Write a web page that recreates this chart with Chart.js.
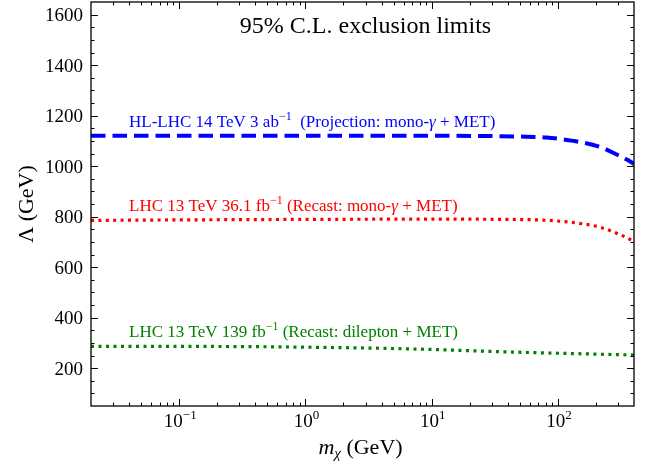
<!DOCTYPE html>
<html><head><meta charset="utf-8">
<script src="https://cdn.jsdelivr.net/npm/chart.js@4"></script>
<style>html,body{margin:0;padding:0;background:#fff}</style>
</head><body>
<canvas id="c" width="652" height="468"></canvas>
<script>
// ---- data ----
const blueMass = [0.02, 0.1, 1, 10, 30, 50, 81, 132, 215, 292, 379, 400];
const blueLambda = [1120, 1120, 1120, 1120, 1119, 1117, 1113, 1100, 1076, 1046, 1016, 1008];
const redMass = [0.02, 0.1, 1, 10, 40, 91, 159, 215, 309, 400];
const redLambda = [785, 787, 789, 790, 789, 784, 771, 758, 729, 702];
const greenMass = [0.02, 0.1, 1, 10, 30, 100, 400];
const greenLambda = [286, 286, 283, 274, 266, 259, 252];
const xTickValues = [0.1, 1, 10, 100];
const xTickExps = ['\u22121', '0', '1', '2'];
const yTickValues = [200, 400, 600, 800, 1000, 1200, 1400, 1600];
const yTickLabels = ['200', '400', '600', '800', '1000', '1200', '1400', '1600'];

const FONT = '"Liberation Serif", "Times New Roman", serif';
const pts = (xs, ys) => xs.map((x, i) => ({x: x, y: ys[i]}));

function richWidth(ctx, segs) {
  let w = 0;
  for (const s of segs) { ctx.font = (s.style || '') + ' ' + s.size + 'px ' + FONT; w += ctx.measureText(s.t).width; }
  return w;
}
function drawRich(ctx, x, y, segs, color, align) {
  const w = richWidth(ctx, segs);
  let cx = align === 'center' ? x - w / 2 : (align === 'right' ? x - w : x);
  ctx.fillStyle = color; ctx.textAlign = 'left'; ctx.textBaseline = 'alphabetic';
  for (const s of segs) {
    ctx.font = (s.style || '') + ' ' + s.size + 'px ' + FONT;
    ctx.fillText(s.t, cx, y + (s.dy || 0));
    cx += ctx.measureText(s.t).width;
  }
}

const decor = {
  id: 'decor',
  afterDraw(chart) {
    const ctx = chart.ctx, a = chart.chartArea;
    const xs = chart.scales.x, ys = chart.scales.y;
    ctx.save();
    ctx.strokeStyle = '#000'; ctx.lineWidth = 1.3;
    ctx.strokeRect(a.left, a.top, a.right - a.left, a.bottom - a.top);
    ctx.lineWidth = 1;
    const tick = (x1, y1, x2, y2) => { ctx.beginPath(); ctx.moveTo(x1, y1); ctx.lineTo(x2, y2); ctx.stroke(); };
    // x ticks
    for (let e = -2; e <= 2; e++) {
      for (let k = 1; k <= 9; k++) {
        const v = k * Math.pow(10, e);
        if (v <= xs.min * 1.0001 || v >= xs.max * 0.9999) continue;
        const px = Math.round(xs.getPixelForValue(v)) + 0.5;
        const L = k === 1 ? 7 : 3.5;
        tick(px, a.bottom, px, a.bottom - L);
        tick(px, a.top, px, a.top + L);
      }
    }
    // y ticks
    for (let v = 100; v < ys.max; v += 50) {
      if (v <= ys.min) continue;
      const py = Math.round(ys.getPixelForValue(v)) + 0.5;
      const L = (v % 200 === 0) ? 7 : 3.5;
      tick(a.left, py, a.left + L, py);
      tick(a.right, py, a.right - L, py);
    }
    // y tick labels
    ctx.fillStyle = '#000'; ctx.font = '19px ' + FONT; ctx.textAlign = 'right'; ctx.textBaseline = 'alphabetic';
    yTickValues.forEach((v, i) => {
      ctx.fillText(yTickLabels[i], a.left - 8, ys.getPixelForValue(v) + 6.5);
    });
    // x tick labels
    xTickValues.forEach((v, i) => {
      const px = xs.getPixelForValue(v);
      drawRich(ctx, px + 1, a.bottom + 21, [{t: '10', size: 19}, {t: xTickExps[i], size: 13, dy: -8}], '#000', 'center');
    });
    // axis titles
    drawRich(ctx, (a.left + a.right) / 2 - 2, 454, [
      {t: 'm', size: 22, style: 'italic'}, {t: '\u03c7', size: 15, style: 'italic', dy: 4}, {t: ' (GeV)', size: 22}], '#000', 'center');
    ctx.save();
    ctx.translate(33, (a.top + a.bottom) / 2);
    ctx.rotate(-Math.PI / 2);
    drawRich(ctx, 0, 0, [{t: '\u039b (GeV)', size: 22}], '#000', 'center');
    ctx.restore();
    // title
    drawRich(ctx, (a.left + a.right) / 2 + 3, 33, [{t: '95% C.L. exclusion limits', size: 24}], '#000', 'center');
    // series labels
    const lx = xs.getPixelForValue(0.04);
    drawRich(ctx, lx, ys.getPixelForValue(1155), [
      {t: 'HL-LHC 14 TeV 3 ab', size: 17}, {t: '\u22121', size: 12, dy: -7},
      {t: '  (Projection: mono-', size: 17}, {t: '\u03b3', size: 17, style: 'italic'}, {t: ' + MET)', size: 17}], '#0000ff', 'left');
    drawRich(ctx, lx, ys.getPixelForValue(821), [
      {t: 'LHC 13 TeV 36.1 fb', size: 17}, {t: '\u22121', size: 12, dy: -7},
      {t: ' (Recast: mono-', size: 17}, {t: '\u03b3', size: 17, style: 'italic'}, {t: ' + MET)', size: 17}], '#ff0000', 'left');
    drawRich(ctx, lx, ys.getPixelForValue(323), [
      {t: 'LHC 13 TeV 139 fb', size: 17}, {t: '\u22121', size: 12, dy: -7},
      {t: ' (Recast: dilepton + MET)', size: 17}], '#008000', 'left');
    ctx.restore();
  }
};

new Chart(document.getElementById('c'), {
  type: 'line',
  data: {
    datasets: [
      {label: 'HL-LHC 14 TeV 3 ab-1', data: pts(blueMass, blueLambda), borderColor: '#0000ff', borderWidth: 4, borderDash: [14.5, 7], cubicInterpolationMode: 'monotone', pointRadius: 0, fill: false, borderCapStyle: 'butt'},
      {label: 'LHC 13 TeV 36.1 fb-1', data: pts(redMass, redLambda), borderColor: '#ff0000', borderWidth: 3.2, borderDash: [3, 4.4], cubicInterpolationMode: 'monotone', pointRadius: 0, fill: false, borderCapStyle: 'butt'},
      {label: 'LHC 13 TeV 139 fb-1', data: pts(greenMass, greenLambda), borderColor: '#008000', borderWidth: 3.2, borderDash: [3, 4.5], cubicInterpolationMode: 'monotone', pointRadius: 0, fill: false, borderCapStyle: 'butt'}
    ]
  },
  options: {
    responsive: false, animation: false, devicePixelRatio: 1,
    layout: {padding: {left: 91, top: 2, right: 18, bottom: 62}},
    plugins: {legend: {display: false}, tooltip: {enabled: false}, title: {display: false}},
    scales: {
      x: {type: 'logarithmic', min: 0.02, max: 400, display: false},
      y: {type: 'linear', min: 50, max: 1650, display: false}
    }
  },
  plugins: [decor]
});
</script>
</body></html>
